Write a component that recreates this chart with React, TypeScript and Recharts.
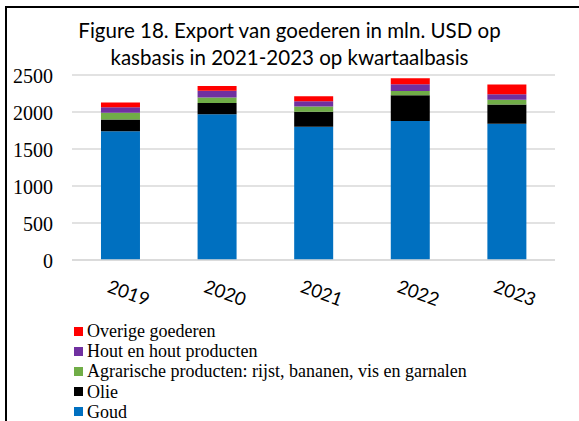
import { BarChart, Bar, XAxis, YAxis, CartesianGrid } from 'recharts';

const years = ['2019', '2020', '2021', '2022', '2023'];
const goud = [1740, 1970, 1800, 1880, 1840];
const olie = [160, 150, 205, 345, 260];
const agrarisch = [90, 77, 68, 60, 67];
const hout = [73, 89, 73, 90, 73];
const overige = [67, 67, 67, 80, 130];
const yTicks = [0, 500, 1000, 1500, 2000, 2500];

const SERIES = [
  { key: 'goud', name: 'Goud', color: '#0070C0' },
  { key: 'olie', name: 'Olie', color: '#000000' },
  { key: 'agrarisch', name: 'Agrarische producten: rijst, bananen, vis en garnalen', color: '#70AD47' },
  { key: 'hout', name: 'Hout en hout producten', color: '#7030A0' },
  { key: 'overige', name: 'Overige goederen', color: '#FF0000' },
];

const data = years.map((year, i) => ({
  year,
  goud: goud[i],
  olie: olie[i],
  agrarisch: agrarisch[i],
  hout: hout[i],
  overige: overige[i],
}));

const SERIF = '"Liberation Serif", "Times New Roman", serif';
const SANS = 'Lato, "Open Sans", sans-serif';

function YearTick(props: any) {
  const { x, y, payload } = props;
  return (
    <text
      transform={`translate(${x + 6},${y + 31}) rotate(20)`}
      textAnchor="middle"
      fontFamily={SANS}
      fontSize={18.5}
      fill="#000"
    >
      {payload.value}
    </text>
  );
}

export default function App() {
  return (
    <div style={{ position: 'absolute', left: 0, top: 0, width: 579, height: 421, background: '#fff', overflow: 'hidden' }}>
      <div
        style={{
          position: 'absolute', left: 5, top: 6, width: 600, height: 440,
          borderLeft: '2px solid #000', borderTop: '2px solid #000',
        }}
      />
      <div
        style={{
          position: 'absolute', left: 0, top: 17, width: 579, textAlign: 'center',
          fontFamily: SANS, fontSize: 20.5, lineHeight: '27px', color: '#000',
        }}
      >
        Figure 18. Export van goederen in mln. USD op<br />
        kasbasis in 2021-2023 op kwartaalbasis
      </div>
      <BarChart
        width={579}
        height={421}
        data={data}
        margin={{ top: 75, right: 24, bottom: 131, left: 12 }}
        barCategoryGap="30%"
        style={{ position: 'absolute', left: 0, top: 0 }}
      >
        <CartesianGrid vertical={false} stroke="#d9d9d9" strokeWidth={1.5} />
        <XAxis
          dataKey="year"
          height={30}
          axisLine={{ stroke: '#d9d9d9', strokeWidth: 1.5 }}
          tickLine={false}
          tick={<YearTick />}
          interval={0}
        />
        <YAxis
          width={60}
          domain={[0, 2500]}
          ticks={yTicks}
          axisLine={false}
          tickLine={false}
          tickSize={17}
          tickMargin={2}
          tick={{ fontFamily: SERIF, fontSize: 20, fill: '#000', dy: 1 }}
        />
        {SERIES.map((s) => (
          <Bar
            key={s.key}
            dataKey={s.key}
            name={s.name}
            stackId="a"
            fill={s.color}
            isAnimationActive={false}
          />
        ))}
      </BarChart>
      <div
        style={{
          position: 'absolute', left: 74, top: 321, width: 480,
          fontFamily: SERIF, fontSize: 18, lineHeight: '20.2px', color: '#000',
        }}
      >
        {[...SERIES].reverse().map((s) => (
          <div key={s.key} style={{ display: 'flex', alignItems: 'center' }}>
            <span style={{ width: 9, height: 9, background: s.color, marginRight: 4, display: 'inline-block' }} />
            {s.name}
          </div>
        ))}
      </div>
    </div>
  );
}
